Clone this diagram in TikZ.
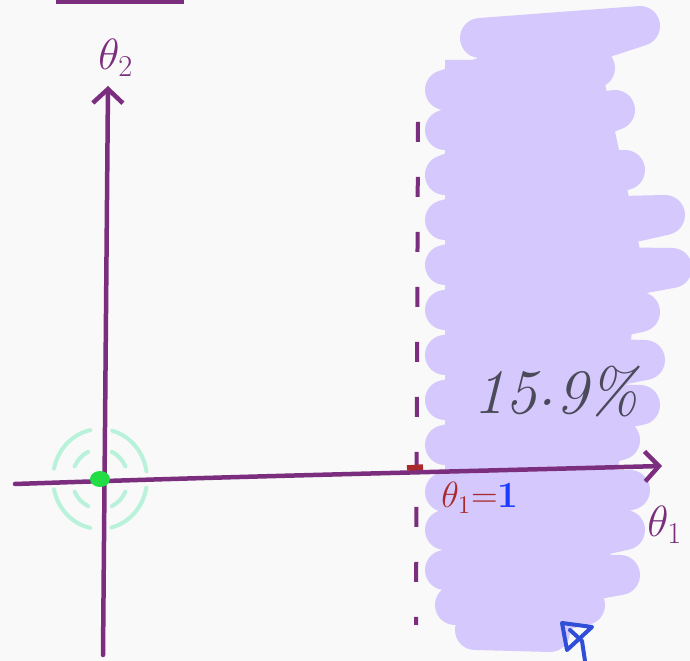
\documentclass[tikz,border=0pt]{standalone}
\usetikzlibrary{arrows.meta, positioning}
\definecolor{penpurple}{HTML}{7B2D7E}
\definecolor{haze}{HTML}{D5C8FC}
\definecolor{mint}{HTML}{B8F2DA}
\definecolor{dotgreen}{HTML}{22DD44}
\definecolor{penred}{HTML}{A82A2A}
\definecolor{penblue}{HTML}{1E3CFF}
\definecolor{cursorblue}{HTML}{2F4FD8}
\definecolor{pengray}{HTML}{4A4A5A}
\definecolor{paper}{HTML}{F9F9F9}

\begin{document}
\begin{tikzpicture}[x=0.02cm, y=-0.02cm,
    axis/.style={draw=penpurple, line width=0.09cm, line cap=round,
                 -{Straight Barb[length=2.8mm, width=6mm]}},
    guide/.style={draw=penpurple, line width=0.08cm, dash pattern=on 0.4cm off 0.7cm},
    scribble/.style={draw=haze, line width=0.8cm, line cap=round, line join=round},
    ring/.style={draw=mint, line width=0.08cm, line cap=round},
    lbl/.style={text=penpurple, font=\fontsize{24}{28}\selectfont, inner sep=0pt}]
    \useasboundingbox (0,0) rectangle (690,661);
    \fill[paper] (0,0) rectangle (690,661);
    \fill[penpurple] (56,0) rectangle (184,4);

    \fill[haze] (445,60) -- (600,60) -- (640,250) -- (620,450) -- (610,560) -- (470,610) -- (445,600) -- cycle;
    \draw[scribble] plot coordinates {(480,38) (640,26) (445,90) (595,68) (445,130) (615,110)
        (445,175) (625,170) (445,220) (665,215) (445,265) (672,268) (445,310) (640,312)
        (445,355) (645,360) (445,400) (640,405) (445,445) (620,440) (445,492) (630,490)
        (445,530) (625,530) (445,570) (620,575) (455,605) (585,605) (475,630) (550,632)};

    \coordinate (dtop) at (418,122);
    \coordinate (dbot) at (416,625);
    \draw[guide] (dtop) -- (dbot);

    \coordinate (o) at (100,479);
    \foreach \a in {10,102,192,285} {
      \draw[ring] (o) ++(\a:47 and 50) arc[start angle=\a, end angle=\a+66, x radius=47, y radius=50];
    }
    \foreach \a in {25,115,205,295} {
      \draw[ring] (o) ++(\a:28 and 30) arc[start angle=\a, end angle=\a+40, x radius=28, y radius=30];
    }

    \coordinate (ybot) at (103,655);
    \coordinate (ytop) at (108,86);
    \coordinate (xleft) at (15,484);
    \coordinate (xright) at (662,466);
    \draw[axis] (ybot) -- (ytop);
    \draw[axis] (xleft) .. controls (250,476) and (360,474) .. (xright);
    \draw[penred, line width=0.11cm] (407,468) -- (423,467);
    \fill[dotgreen] (o) ellipse[x radius=10, y radius=8];

    \node[lbl, anchor=west] (thetatwo) at (98,58) {$\theta_2$};
    \node[lbl, anchor=west] (thetaone) at (647,525) {$\theta_1$};
    \node[anchor=west, inner sep=0pt, font=\fontsize{21}{24}\selectfont] (cut) at (441,498)
        {\textcolor{penred}{$\theta_1$=}\textcolor{penblue}{\textbf{1}}};
    \node[text=pengray, font=\fontsize{36}{40}\selectfont\itshape] (pct) at (556,392)
        {15\raisebox{0.3ex}{.}9\%};

    \draw[cursorblue, line width=0.08cm, line join=round, line cap=round]
        (562,623) -- (592,627) -- (567,650) -- cycle (570,630) -- (582,641) -- (585,661);
  \end{tikzpicture}
\end{document}
